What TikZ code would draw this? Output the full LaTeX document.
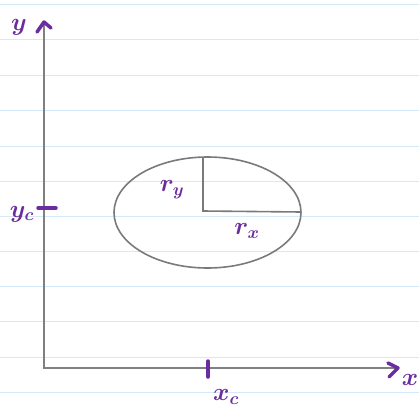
\documentclass[tikz,border=0pt]{standalone}
\definecolor{ink}{HTML}{6A2C9E}
\definecolor{rulecol}{HTML}{D4EAF8}
\definecolor{axiscol}{HTML}{808080}
\begin{document}
\begin{tikzpicture}[x=1pt,y=-1pt,
 ruling/.style={draw=rulecol,line width=1pt},
 axisline/.style={draw=axiscol,line width=2pt},
 curve/.style={draw=axiscol!95!black,line width=1.6pt},
 pen/.style={draw=ink,line width=3.5pt,line cap=round,line join=round},
 lbl/.style={text=ink,font=\fontsize{27}{29}\selectfont\boldmath,inner sep=0pt}]
\useasboundingbox[fill=white] (0,0) rectangle (419,412);
\foreach \yy in {5,40,75,110,146,181,216,251,286,321,357,392}
  \draw[ruling] (0,\yy) -- (419,\yy);
% axes
\coordinate (O) at (44,368);
\coordinate (Ytop) at (44,22);
\coordinate (Xend) at (398,368);
\draw[axisline] (Ytop) -- (O) -- (Xend);
% hand-drawn arrow heads
\coordinate (ya) at (37,32);
\coordinate (yb) at (51,28);
\draw[pen] (ya) -- (Ytop) -- (yb);
\coordinate (xa) at (388,363);
\coordinate (xb) at (389,377);
\draw[pen] (xa) -- (Xend) -- (xb);
% ticks
\coordinate (xt1) at (208,361);
\coordinate (xt2) at (208,377);
\draw[pen] (xt1) -- (xt2);
\coordinate (yt1) at (38,208);
\coordinate (yt2) at (56,208);
\draw[pen] (yt1) -- (yt2);
% ellipse
\coordinate (C) at (203,211);
\draw[curve] (207.5,212.5) ellipse [x radius=93.5, y radius=55.5];
\coordinate (Rtop) at (203,157.5);
\coordinate (Rright) at (301,212);
\draw[curve] (Rtop) -- (C) -- (Rright);
% labels
\node[lbl] (ylab) at (19,27) {$y$};
\node[lbl] (xlab) at (410,380) {$x$};
\node[lbl] (xclab) at (226,397) {$x_c$};
\node[lbl] (yclab) at (22,214) {$y_c$};
\node[lbl] (rylab) at (172,190) {$r_y$};
\node[lbl] (rxlab) at (247,231) {$r_x$};
\end{tikzpicture}
\end{document}
